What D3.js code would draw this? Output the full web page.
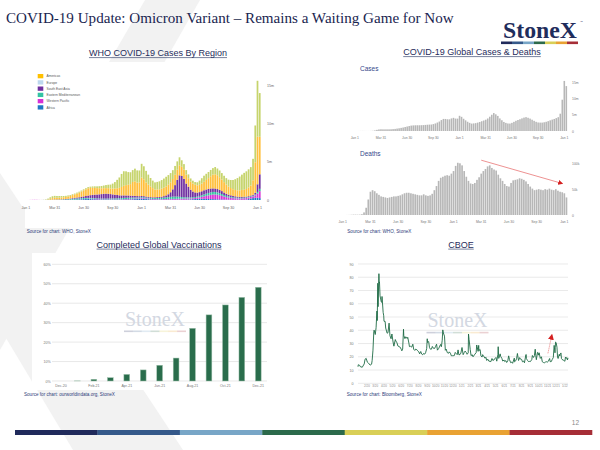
<!DOCTYPE html>
<html>
<head>
<meta charset="utf-8">
<script src="https://cdn.jsdelivr.net/npm/d3@7"></script>
<style>
  body { margin: 0; background: #fff; }
  svg { display: block; }
</style>
</head>
<body>
<svg id="slide" width="600" height="450"></svg>
<script>
// ---- WHO weekly new cases by region (millions), week 0 = first week of Jan 2020 ----
var afr = [0,0,0,0,0,0,0,0,0,0, 0,0.002,0.004, 0.006,0.008,0.01,0.013, 0.016,0.02,0.025,0.03,
  0.04,0.05,0.06,0.07,0.09, 0.11,0.12,0.13,0.12, 0.1,0.09,0.08,0.07,0.06, 0.06,0.05,0.05,0.05,
  0.05,0.05,0.05,0.05, 0.05,0.06,0.06,0.07,0.08, 0.09,0.11,0.12,0.13,
  0.15,0.14,0.12,0.1, 0.08,0.07,0.06,0.06, 0.05,0.05,0.05,0.05,0.05, 0.05,0.05,0.04,0.04,
  0.04,0.04,0.04,0.05,0.06, 0.08,0.1,0.12,0.14, 0.16,0.16,0.15,0.14, 0.13,0.12,0.11,0.1,0.09,
  0.08,0.07,0.06,0.05, 0.04,0.04,0.03,0.03, 0.03,0.03,0.03,0.04,0.06, 0.12,0.2,0.25,0.3, 0.3,0.25];
var wpr = [0.001,0.002,0.01,0.02,0.025,0.02,0.01,0.005,0.005,0.006, 0.008,0.01,0.015, 0.018,0.015,0.012,0.01,
  0.01,0.009,0.008,0.009, 0.01,0.012,0.014,0.016,0.02, 0.025,0.03,0.04,0.05, 0.06,0.06,0.05,0.05,0.04,
  0.04,0.04,0.04,0.04, 0.04,0.04,0.04,0.04, 0.04,0.05,0.06,0.07,0.07, 0.08,0.09,0.09,0.09,
  0.1,0.1,0.09,0.08, 0.07,0.06,0.06,0.06, 0.06,0.06,0.07,0.07,0.08, 0.09,0.1,0.11,0.12,
  0.13,0.14,0.15,0.15,0.14, 0.13,0.13,0.14,0.16, 0.2,0.26,0.33,0.4, 0.48,0.55,0.6,0.62,0.6,
  0.55,0.48,0.4,0.33, 0.28,0.24,0.21,0.19, 0.17,0.16,0.17,0.18,0.19, 0.2,0.21,0.22,0.3, 0.55,0.9];
var emr = [0,0,0,0,0,0,0.001,0.003,0.008,0.01, 0.012,0.018,0.022, 0.026,0.03,0.035,0.04,
  0.05,0.06,0.07,0.08, 0.1,0.12,0.13,0.13,0.13, 0.13,0.12,0.11,0.1, 0.09,0.09,0.08,0.08,0.08,
  0.08,0.09,0.1,0.1, 0.11,0.12,0.13,0.14, 0.16,0.17,0.17,0.16,0.15, 0.14,0.13,0.12,0.12,
  0.12,0.12,0.11,0.11, 0.11,0.12,0.13,0.15, 0.16,0.18,0.2,0.22,0.24, 0.27,0.29,0.29,0.28,
  0.25,0.2,0.17,0.15,0.14, 0.13,0.13,0.13,0.14, 0.17,0.2,0.24,0.28, 0.31,0.33,0.34,0.33,0.3,
  0.27,0.23,0.19,0.16, 0.14,0.12,0.11,0.1, 0.1,0.09,0.09,0.09,0.09, 0.08,0.08,0.09,0.12, 0.2,0.3];
var sear = [0,0,0,0,0,0,0,0,0,0.001, 0.002,0.004,0.008, 0.01,0.015,0.02,0.025,
  0.035,0.045,0.06,0.07, 0.09,0.1,0.12,0.14,0.17, 0.2,0.25,0.3,0.36, 0.42,0.46,0.5,0.54,0.59,
  0.63,0.65,0.62,0.58, 0.53,0.48,0.43,0.38, 0.35,0.32,0.3,0.29,0.27, 0.24,0.21,0.18,0.16,
  0.15,0.14,0.13,0.12, 0.11,0.1,0.1,0.11, 0.12,0.14,0.18,0.26,0.38, 0.6,0.95,1.5,2.2,
  2.8,2.75,2.4,1.8,1.4, 1.0,0.75,0.6,0.52, 0.5,0.52,0.55,0.55, 0.53,0.5,0.46,0.45,0.44,
  0.42,0.38,0.33,0.28, 0.24,0.21,0.18,0.16, 0.14,0.13,0.12,0.11,0.1, 0.1,0.1,0.11,0.2, 1.0,1.9];
var amr = [0,0,0,0,0,0,0,0.001,0.004,0.01, 0.04,0.12,0.2, 0.23,0.22,0.23,0.24,
  0.25,0.27,0.3,0.34, 0.4,0.45,0.52,0.6,0.7, 0.8,0.88,0.95,0.95, 0.92,0.88,0.84,0.8,0.76,
  0.73,0.72,0.73,0.74, 0.76,0.8,0.88,0.98, 1.1,1.25,1.35,1.4,1.5, 1.8,1.9,1.75,1.8,
  2.4,2.2,1.85,1.6, 1.4,1.2,1.0,1.0, 1.0,1.05,1.1,1.18,1.25, 1.3,1.35,1.35,1.3,
  1.3,1.2,1.2,1.15,1.1, 1.05,1.05,1.0,0.95, 0.95,1.0,1.1,1.25, 1.4,1.6,1.8,1.85,1.8,
  1.65,1.5,1.35,1.2, 1.05,0.95,0.88,0.83, 0.82,0.85,0.9,0.92,1.0, 1.15,1.3,1.9,4.0, 6.2,4.9];
var eur = [0,0,0,0,0,0,0,0.002,0.01,0.04, 0.12,0.2,0.24, 0.25,0.23,0.21,0.19,
  0.16,0.14,0.13,0.12, 0.11,0.11,0.12,0.13,0.13, 0.13,0.14,0.15,0.16, 0.18,0.2,0.23,0.26,0.3,
  0.35,0.4,0.45,0.5, 0.65,0.85,1.1,1.35, 1.7,1.9,1.8,1.65,1.55, 1.55,1.65,1.6,1.55,
  1.8,1.7,1.5,1.3, 1.1,0.98,0.95,0.98, 1.05,1.12,1.2,1.25,1.25, 1.2,1.15,1.15,1.1,
  1.05,0.85,0.72,0.6,0.5, 0.42,0.36,0.35,0.4, 0.55,0.7,0.8,0.8, 0.8,0.82,0.85,0.95,0.88,
  0.88,0.85,0.83,0.83, 0.9,1.05,1.2,1.4, 1.6,1.8,2.0,2.2,2.3, 2.35,2.4,2.8,4.8, 7.3,5.7];

// ---- WHO weekly deaths (thousands) ----
var deaths = [0,0,0.1,0.2,0.4,0.7,0.7,0.6,0.7,1.5, 5,14,30, 45,48,46,42, 39,36,35,34,
  33,34,35,36,36, 37,38,40,42, 43,43,42,41,40, 39,38,38,40, 38,37,38,41, 48,56,66,72,74,
  76,77,76,80, 85,95,101,100, 96,85,74,66, 61,60,62,68,73, 80,85,89,94,
  96,91,88,86,78, 71,66,60,56, 55,62,67,68, 69,71,70,68,65, 60,55,51,48,
  49,50,49,48, 50,49,51,49,48, 50,47,45,44, 42,34];

var regionKeys   = ["afr", "wpr", "emr", "sear", "amr", "eur"];
var regionColors = ["#1f77c4", "#d630d6", "#2fbf9f", "#7030a0", "#ffbf3c", "#c6d46c"];
var legendNames  = ["Americas", "Europe", "South East Asia", "Eastern Mediterranean", "Western Pacific", "Africa"];
var legendColors = ["#ffc000", "#bdd7ee", "#7030a0", "#33c3a3", "#d630d6", "#1f77c4"];

var weekTickIdx    = [0, 13, 26, 39, 52, 65, 78, 91, 104];
var weekTickLabels = ["Jan 1", "Mar 31", "Jun 30", "Sep 30", "Jan 1", "Mar 31", "Jun 30", "Sep 30", "Jan 1"];

// ---- Completed vaccinations (% of world population) ----
var vaxMonths = ["Dec-20","Jan-21","Feb-21","Mar-21","Apr-21","May-21","Jun-21","Jul-21","Aug-21","Sep-21","Oct-21","Nov-21","Dec-21"];
var vaxPct    = [0, 0.05, 0.9, 1.7, 3.4, 5.7, 8.1, 11.8, 27.1, 34.0, 39.1, 43.0, 48.2];
var vaxTickLabels = ["Dec-20","Feb-21","Apr-21","Jun-21","Aug-21","Oct-21","Dec-21"];

// ---- CBOE VIX ----
var vixDates = ["2020-01-02","2020-01-03","2020-01-08","2020-01-10","2020-01-17","2020-01-24","2020-01-27","2020-01-31",
  "2020-02-04","2020-02-07","2020-02-14","2020-02-19","2020-02-21","2020-02-24","2020-02-27","2020-02-28",
  "2020-03-03","2020-03-06","2020-03-09","2020-03-10","2020-03-12","2020-03-13","2020-03-16","2020-03-17","2020-03-18",
  "2020-03-20","2020-03-24","2020-03-26","2020-03-27","2020-03-31","2020-04-02","2020-04-03","2020-04-07","2020-04-09",
  "2020-04-14","2020-04-17","2020-04-21","2020-04-24","2020-04-28","2020-05-01","2020-05-05","2020-05-08","2020-05-13",
  "2020-05-15","2020-05-19","2020-05-22","2020-05-27","2020-05-29","2020-06-03","2020-06-05","2020-06-08","2020-06-11",
  "2020-06-12","2020-06-16","2020-06-19","2020-06-24","2020-06-26","2020-06-30","2020-07-02","2020-07-06","2020-07-10",
  "2020-07-14","2020-07-17","2020-07-21","2020-07-24","2020-07-28","2020-07-31","2020-08-04","2020-08-07","2020-08-11",
  "2020-08-14","2020-08-18","2020-08-21","2020-08-25","2020-08-28","2020-09-01","2020-09-03","2020-09-04","2020-09-08",
  "2020-09-11","2020-09-15","2020-09-18","2020-09-21","2020-09-25","2020-09-29","2020-10-02","2020-10-06","2020-10-09",
  "2020-10-13","2020-10-16","2020-10-20","2020-10-23","2020-10-26","2020-10-28","2020-10-30","2020-11-03","2020-11-06",
  "2020-11-09","2020-11-13","2020-11-18","2020-11-20","2020-11-24","2020-11-27","2020-12-01","2020-12-04","2020-12-08",
  "2020-12-11","2020-12-15","2020-12-18","2020-12-21","2020-12-24","2020-12-28","2020-12-31",
  "2021-01-04","2021-01-08","2021-01-12","2021-01-15","2021-01-19","2021-01-22","2021-01-26","2021-01-27","2021-01-29",
  "2021-02-02","2021-02-05","2021-02-09","2021-02-12","2021-02-17","2021-02-19","2021-02-23","2021-02-25","2021-02-26",
  "2021-03-02","2021-03-04","2021-03-05","2021-03-09","2021-03-12","2021-03-16","2021-03-18","2021-03-19","2021-03-23",
  "2021-03-26","2021-03-30","2021-04-01","2021-04-06","2021-04-09","2021-04-13","2021-04-16","2021-04-20","2021-04-23",
  "2021-04-27","2021-04-30","2021-05-04","2021-05-07","2021-05-11","2021-05-12","2021-05-14","2021-05-19","2021-05-21",
  "2021-05-25","2021-05-28","2021-06-02","2021-06-04","2021-06-08","2021-06-11","2021-06-15","2021-06-18","2021-06-21",
  "2021-06-25","2021-06-29","2021-07-02","2021-07-08","2021-07-09","2021-07-13","2021-07-16","2021-07-19","2021-07-23",
  "2021-07-27","2021-07-30","2021-08-03","2021-08-06","2021-08-10","2021-08-13","2021-08-18","2021-08-19","2021-08-20",
  "2021-08-24","2021-08-27","2021-08-31","2021-09-03","2021-09-08","2021-09-10","2021-09-14","2021-09-17","2021-09-20",
  "2021-09-22","2021-09-24","2021-09-28","2021-09-30","2021-10-01","2021-10-04","2021-10-08","2021-10-12","2021-10-15",
  "2021-10-19","2021-10-22","2021-10-26","2021-10-29","2021-11-02","2021-11-05","2021-11-10","2021-11-12","2021-11-16",
  "2021-11-19","2021-11-23","2021-11-26","2021-11-29","2021-11-30","2021-12-01","2021-12-03","2021-12-06","2021-12-08",
  "2021-12-10","2021-12-14","2021-12-16","2021-12-17","2021-12-20","2021-12-22","2021-12-24","2021-12-28","2021-12-31",
  "2022-01-03","2022-01-05","2022-01-07","2022-01-10","2022-01-12","2022-01-14"];
var vixClose = [12.5,14.0,13.5,12.6,12.1,14.6,18.2,18.8,
  16.0,15.5,13.7,14.4,17.1,25.0,39.2,40.1,
  36.8,41.9,54.5,47.3,75.5,57.8,82.7,75.9,76.5,
  66.0,61.7,61.0,65.5,53.5,50.9,46.8,46.7,41.7,
  37.8,38.1,45.4,35.9,33.6,37.2,31.2,28.0,33.0,
  31.9,30.5,28.2,27.6,27.5,25.7,24.5,25.8,40.8,
  36.1,33.7,35.1,33.8,34.7,30.4,27.7,27.9,27.3,
  29.5,25.7,24.8,25.8,25.4,24.5,23.8,22.2,24.0,
  22.1,21.5,22.5,22.0,23.0,26.1,33.6,30.8,31.5,
  26.9,25.6,25.8,27.8,26.4,26.3,27.6,29.5,25.0,
  26.1,27.4,29.3,27.6,32.5,40.3,38.0,35.6,24.9,
  25.8,23.1,22.7,23.7,22.7,20.8,20.8,20.8,21.0,
  23.3,22.3,21.6,25.2,21.5,21.7,22.8,
  27.0,21.6,23.3,24.3,23.2,21.9,23.0,37.2,33.1,
  25.6,20.9,21.6,20.0,21.5,22.1,23.1,28.9,28.0,
  24.1,28.6,24.7,25.5,20.7,19.8,21.6,21.0,20.3,
  18.9,19.6,17.3,18.1,16.7,16.6,16.3,18.7,17.3,
  17.6,18.6,19.5,16.7,21.8,27.6,18.8,22.2,20.2,
  18.8,16.8,17.5,16.4,17.1,15.7,17.0,20.7,17.9,
  15.6,16.0,15.1,19.0,16.2,17.0,18.5,22.5,17.2,
  19.4,18.2,18.0,16.2,16.8,15.5,21.6,21.7,18.6,
  17.2,16.4,16.5,16.4,18.0,21.0,19.5,20.8,25.7,
  20.9,17.8,23.3,23.1,21.2,23.0,18.8,20.0,16.3,
  15.7,15.4,16.0,16.3,16.0,16.5,18.7,16.3,16.4,
  17.9,19.4,28.6,23.0,27.2,31.1,30.7,27.2,19.9,
  18.7,21.9,20.6,21.6,22.9,18.6,18.0,17.5,17.2,
  16.6,19.7,18.8,19.4,17.6,19.2];

// annotation arrows, in data units
var deathArrowIdx = [65, 103], deathArrowVal = [106, 61];
var vixArrowDates = ["2021-11-04", "2021-11-18"], vixArrowVals = [22.6, 36.5];

var brandColors = ["#202a5b", "#35598a", "#78a6c7", "#2c6a4b", "#d9cf57", "#e9a233", "#a62e37"];

var navy = "#1f2d5c";
var sans = "'Liberation Sans', Arial, sans-serif";
var serif = "'Liberation Serif', 'Times New Roman', serif";
var svg = d3.select("#slide");

// background chevron
var bgShapes = [
  [[145, 0], [200, 0], [0, 350], [0, 250]],
  [[0, 173], [0, 328], [73, 450], [183, 450]]
];
svg.selectAll("polygon.bg").data(bgShapes).enter().append("polygon")
  .attr("class", "bg").attr("fill", "#f2f2f2")
  .attr("points", function(d) { return d.join(" "); });

// white panels behind the left charts
svg.append("rect").attr("x", 25).attr("y", 62).attr("width", 250).attr("height", 166).attr("fill", "#fff");
svg.append("rect").attr("x", 32).attr("y", 253).attr("width", 238).attr("height", 137).attr("fill", "#fff");

// fit a text to a given width by adjusting its font size
function fitText(sel, width) {
  var fs = +sel.attr("font-size");
  var w = sel.node().getComputedTextLength();
  sel.attr("font-size", fs * width / w);
}

// headline
var headline = svg.append("text").attr("x", 6).attr("y", 23)
  .attr("font-family", serif).attr("font-size", 19).attr("fill", "#1a2550")
  .text("COVID-19 Update: Omicron Variant \u2013 Remains a Waiting Game for Now");
fitText(headline, 448);

// logo
var logo = svg.append("text").attr("x", 503).attr("y", 38)
  .attr("font-family", serif).attr("font-size", 25).attr("font-weight", "bold").attr("fill", navy)
  .text("StoneX");
fitText(logo, 74);
svg.append("text").attr("x", 580).attr("y", 23).attr("font-family", sans).attr("font-size", 3).attr("fill", navy).text("\u2122");
var logoBar = d3.scaleBand().domain(d3.range(7)).range([501, 578]);
svg.selectAll("rect.logobar").data(brandColors).enter().append("rect")
  .attr("x", function(d, i) { return logoBar(i); }).attr("y", 41.5)
  .attr("width", logoBar.bandwidth()).attr("height", 2.6).attr("fill", function(d) { return d; });

// footer bar + page number
var footBar = d3.scaleBand().domain(d3.range(7)).range([15, 592]);
svg.selectAll("rect.footbar").data(brandColors).enter().append("rect")
  .attr("x", function(d, i) { return footBar(i); }).attr("y", 430)
  .attr("width", footBar.bandwidth() + 0.3).attr("height", 5).attr("fill", function(d) { return d; });
svg.append("text").attr("x", 579).attr("y", 425).attr("text-anchor", "end")
  .attr("font-family", sans).attr("font-size", 6.5).attr("fill", "#8a8a8a").text("12");

function chartTitle(x, y, str) {
  var t = svg.append("text").attr("x", x).attr("y", y).attr("text-anchor", "middle")
    .attr("font-family", sans).attr("font-size", 9).attr("fill", navy).text(str);
  var w = t.node().getComputedTextLength();
  svg.append("line").attr("x1", x - w / 2).attr("x2", x + w / 2)
    .attr("y1", y + 1.6).attr("y2", y + 1.6).attr("stroke", navy).attr("stroke-width", 0.6);
}
function source(x, y, str) {
  svg.append("text").attr("x", x).attr("y", y).attr("font-family", sans)
    .attr("font-size", 4.6).attr("fill", "#2e3d7a").text(str);
}
function styleAxis(g, size, color) {
  g.select(".domain").remove();
  g.selectAll("text").attr("font-family", sans).attr("font-size", size).attr("fill", color);
}
function watermark(cx, y) {
  svg.append("text").attr("x", cx).attr("y", y).attr("text-anchor", "middle")
    .attr("font-family", serif).attr("font-size", 20).attr("fill", "#d3d8e2").text("StoneX");
  var wm = d3.scaleBand().domain(d3.range(7)).range([cx - 31, cx + 31]);
  svg.append("g").selectAll("rect").data(brandColors).enter().append("rect")
    .attr("x", function(d, i) { return wm(i); }).attr("y", y + 4.5)
    .attr("width", wm.bandwidth()).attr("height", 1.6)
    .attr("fill", function(d) { return d; }).attr("opacity", 0.22);
}

chartTitle(158, 56, "WHO COVID-19 Cases By Region");
chartTitle(472, 55, "COVID-19 Global Cases & Deaths");
chartTitle(159, 247.5, "Completed Global Vaccinations");
chartTitle(461, 247.5, "CBOE");

// ===== WHO cases by region (stacked) =====
var rows = afr.map(function(v, i) {
  return { afr: afr[i], wpr: wpr[i], emr: emr[i], sear: sear[i], amr: amr[i], eur: eur[i] };
});
var stacked = d3.stack().keys(regionKeys)(rows);
var whoX = d3.scaleBand().domain(d3.range(rows.length)).range([24.9, 260.6]).paddingInner(0.22);
var whoY = d3.scaleLinear().domain([0, 15]).range([200, 85]);

svg.append("g").selectAll("g").data(stacked).enter().append("g")
  .attr("fill", function(d, i) { return regionColors[i]; })
  .selectAll("rect").data(function(d) { return d; }).enter().append("rect")
  .attr("x", function(d, i) { return whoX(i); })
  .attr("width", whoX.bandwidth())
  .attr("y", function(d) { return whoY(d[1]); })
  .attr("height", function(d) { return Math.max(0, whoY(d[0]) - whoY(d[1])); });

var whoXAxis = svg.append("g").attr("transform", "translate(0,200)")
  .call(d3.axisBottom(whoX).tickValues(weekTickIdx)
    .tickFormat(function(d, i) { return weekTickLabels[i]; }).tickSize(0).tickPadding(6.5));
styleAxis(whoXAxis, 3.6, "#666");
var whoYAxis = svg.append("g").attr("transform", "translate(267,0)")
  .call(d3.axisRight(whoY).tickValues([0, 5, 10, 15])
    .tickFormat(function(d) { return d ? d + "m" : "0"; }).tickSize(0).tickPadding(0));
styleAxis(whoYAxis, 3.6, "#666");

var legend = svg.append("g").selectAll("g").data(legendNames).enter().append("g")
  .attr("transform", function(d, i) { return "translate(37.7," + (74 + i * 6.25) + ")"; });
legend.append("rect").attr("width", 5.6).attr("height", 4.3)
  .attr("fill", function(d, i) { return legendColors[i]; });
legend.append("text").attr("x", 8.8).attr("y", 3.4).attr("font-family", sans)
  .attr("font-size", 3.3).attr("fill", "#555").text(function(d) { return d; });

source(26.7, 232.5, "Source for chart: WHO, StoneX");

// ===== Global cases (grey bars) =====
var globalCases = rows.map(function(r) { return d3.sum(regionKeys, function(k) { return r[k]; }); });
var casesX = d3.scaleBand().domain(d3.range(globalCases.length)).range([354, 567.1]).paddingInner(0.22);
var casesY = d3.scaleLinear().domain([0, 15]).range([131, 82.7]);
svg.append("g").selectAll("rect").data(globalCases).enter().append("rect")
  .attr("x", function(d, i) { return casesX(i); }).attr("width", casesX.bandwidth())
  .attr("y", function(d) { return casesY(d); })
  .attr("height", function(d) { return casesY(0) - casesY(d); })
  .attr("fill", "#b7b7b7");
var cxAxis = svg.append("g").attr("transform", "translate(0,131)")
  .call(d3.axisBottom(casesX).tickValues(weekTickIdx)
    .tickFormat(function(d, i) { return weekTickLabels[i]; }).tickSize(0).tickPadding(6));
styleAxis(cxAxis, 3.4, "#777");
var cyAxis = svg.append("g").attr("transform", "translate(572,0)")
  .call(d3.axisRight(casesY).tickValues([0, 5, 10, 15])
    .tickFormat(function(d) { return d ? d + "m" : "0"; }).tickSize(0).tickPadding(0));
styleAxis(cyAxis, 3.4, "#777");
svg.append("text").attr("x", 360).attr("y", 71).attr("font-family", sans)
  .attr("font-size", 6.5).attr("fill", "#34478a").text("Cases");

// ===== Global deaths =====
var deathsX = d3.scaleBand().domain(d3.range(deaths.length)).range([341.9, 567.3]).paddingInner(0.22);
var deathsY = d3.scaleLinear().domain([0, 100]).range([215, 163.3]);
svg.append("g").selectAll("rect").data(deaths).enter().append("rect")
  .attr("x", function(d, i) { return deathsX(i); }).attr("width", deathsX.bandwidth())
  .attr("y", function(d) { return deathsY(d); })
  .attr("height", function(d) { return deathsY(0) - deathsY(d); })
  .attr("fill", "#b7b7b7");
var dxAxis = svg.append("g").attr("transform", "translate(0,215)")
  .call(d3.axisBottom(deathsX).tickValues(weekTickIdx)
    .tickFormat(function(d, i) { return weekTickLabels[i]; }).tickSize(0).tickPadding(6));
styleAxis(dxAxis, 3.4, "#777");
var dyAxis = svg.append("g").attr("transform", "translate(572,0)")
  .call(d3.axisRight(deathsY).tickValues([0, 50, 100])
    .tickFormat(function(d) { return d ? d + "k" : "0"; }).tickSize(0).tickPadding(0));
styleAxis(dyAxis, 3.4, "#777");
svg.append("text").attr("x", 360).attr("y", 155.5).attr("font-family", sans)
  .attr("font-size", 6.5).attr("fill", "#34478a").text("Deaths");

var defs = svg.append("defs");
defs.append("marker").attr("id", "redHead").attr("viewBox", "0 0 10 10")
  .attr("refX", 8).attr("refY", 5).attr("markerWidth", 5).attr("markerHeight", 5)
  .attr("markerUnits", "userSpaceOnUse").attr("orient", "auto")
  .append("path").attr("d", "M0,0L10,5L0,10Z").attr("fill", "#d42020");

var bw = deathsX.bandwidth() / 2;
svg.append("line")
  .attr("x1", deathsX(deathArrowIdx[0]) + bw).attr("y1", deathsY(deathArrowVal[0]))
  .attr("x2", deathsX(deathArrowIdx[1]) + bw).attr("y2", deathsY(deathArrowVal[1]))
  .attr("stroke", "#e04848").attr("stroke-width", 0.6).attr("marker-end", "url(#redHead)");

source(347.3, 233, "Source for chart: WHO, StoneX");

// ===== Completed vaccinations =====
var vaxX = d3.scaleBand().domain(vaxMonths).range([52.8, 266.5]).paddingInner(0.65).paddingOuter(0.325);
var vaxY = d3.scaleLinear().domain([0, 60]).range([381, 264.3]);
svg.append("g").selectAll("line").data(vaxY.ticks(6)).enter().append("line")
  .attr("x1", 52).attr("x2", 267)
  .attr("y1", function(d) { return vaxY(d); }).attr("y2", function(d) { return vaxY(d); })
  .attr("stroke", "#d9d9d9").attr("stroke-width", 0.6);
watermark(155, 326);
svg.append("g").selectAll("rect").data(vaxPct).enter().append("rect")
  .attr("x", function(d, i) { return vaxX(vaxMonths[i]); }).attr("width", vaxX.bandwidth())
  .attr("y", function(d) { return vaxY(d); })
  .attr("height", function(d) { return vaxY(0) - vaxY(d); })
  .attr("fill", "#2a6d4c").attr("stroke", "#9fc2ad").attr("stroke-width", 0.5);
var vxAxis = svg.append("g").attr("transform", "translate(0,381)")
  .call(d3.axisBottom(vaxX).tickValues(vaxTickLabels).tickSize(0).tickPadding(3.5));
styleAxis(vxAxis, 3.6, "#777");
var vyAxis = svg.append("g").attr("transform", "translate(50.7,0)")
  .call(d3.axisLeft(vaxY).ticks(6).tickFormat(function(d) { return d + "%"; }).tickSize(0).tickPadding(0));
styleAxis(vyAxis, 3.6, "#777");
source(24, 396, "Source for chart: ourworldindata.org, StoneX");

// ===== CBOE VIX =====
var parse = d3.timeParse("%Y-%m-%d");
var vix = vixDates.map(function(d, i) { return { date: parse(d), v: vixClose[i] }; });
var vixX = d3.scaleTime().domain(d3.extent(vix, function(d) { return d.date; })).range([358, 568]);
var vixY = d3.scaleLinear().domain([0, 90]).range([383.3, 264]);
svg.append("g").selectAll("line").data(vixY.ticks(9)).enter().append("line")
  .attr("x1", 358).attr("x2", 568)
  .attr("y1", function(d) { return vixY(d); }).attr("y2", function(d) { return vixY(d); })
  .attr("stroke", "#dcdcdc").attr("stroke-width", 0.6);
watermark(457.5, 327.3);
svg.append("path").datum(vix)
  .attr("fill", "none").attr("stroke", "#1e6b45").attr("stroke-width", 0.9)
  .attr("stroke-linejoin", "round")
  .attr("d", d3.line().x(function(d) { return vixX(d.date); }).y(function(d) { return vixY(d.v); }));
var vyx = svg.append("g").attr("transform", "translate(353.5,0)")
  .call(d3.axisLeft(vixY).ticks(9).tickSize(0).tickPadding(0));
styleAxis(vyx, 3.6, "#777");
// dense month labels along the date axis
var vxx = svg.append("g").attr("transform", "translate(0,383.3)")
  .call(d3.axisBottom(vixX).ticks(d3.timeMonth.every(1)).tickFormat(d3.timeFormat("%-m/%y"))
    .tickSize(0).tickPadding(1.5));
styleAxis(vxx, 3, "#8a8a8a");

defs.append("marker").attr("id", "redHead2").attr("viewBox", "0 0 10 10")
  .attr("refX", 8).attr("refY", 5).attr("markerWidth", 6).attr("markerHeight", 6)
  .attr("markerUnits", "userSpaceOnUse").attr("orient", "auto")
  .append("path").attr("d", "M0,0L10,5L0,10Z").attr("fill", "#d42020");
svg.append("line")
  .attr("x1", vixX(parse(vixArrowDates[0]))).attr("y1", vixY(vixArrowVals[0]))
  .attr("x2", vixX(parse(vixArrowDates[1]))).attr("y2", vixY(vixArrowVals[1]))
  .attr("stroke", "#e04848").attr("stroke-width", 0.6).attr("stroke-dasharray", "1.2,0.8")
  .attr("marker-end", "url(#redHead2)");

source(346.7, 396, "Source for chart: Bloomberg, StoneX");
</script>
</body>
</html>
